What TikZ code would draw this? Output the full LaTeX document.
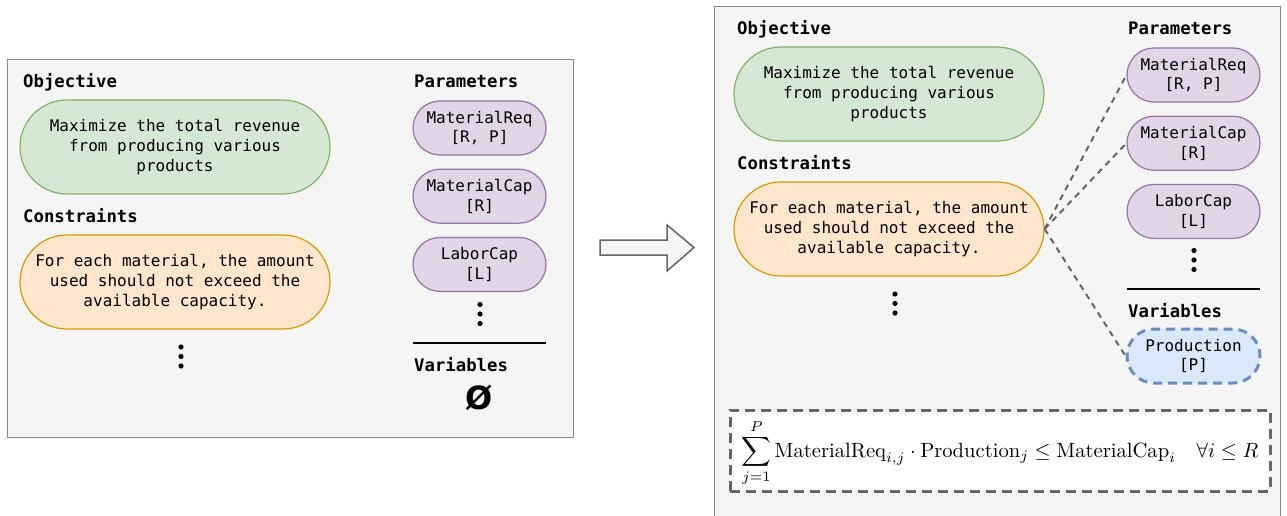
\documentclass[tikz,border=0pt]{standalone}
\usepackage{amsmath}
\usepackage{fontspec}
\usetikzlibrary{positioning, shapes.misc}
\newfontfamily\codefont{DejaVu Sans Mono}
\newfontfamily\symfont{DejaVu Sans}
\definecolor{panelfill}{HTML}{F5F5F5}
\definecolor{panelgray}{HTML}{888888}
\definecolor{linkgray}{HTML}{666666}
\definecolor{goalfill}{HTML}{D5E8D4}
\definecolor{goalline}{HTML}{82B366}
\definecolor{rulefill}{HTML}{FFE6CC}
\definecolor{ruleline}{HTML}{D79B00}
\definecolor{parfill}{HTML}{E1D5E7}
\definecolor{parline}{HTML}{9673A6}
\definecolor{varfill}{HTML}{DAE8FC}
\definecolor{varline}{HTML}{6C8EBF}
\newcommand{\stackdots}[1]{\fill (#1) ++(0,-9.5) circle (2.6) ++(0,9.5) circle (2.6) ++(0,9.5) circle (2.6);}

\begin{document}
\begin{tikzpicture}[x=1pt, y=-1pt, node distance=13pt,
  panel/.style={draw=panelgray, fill=panelfill, line width=1.3pt, anchor=north west, inner sep=0},
  heading/.style={anchor=base west, inner sep=0, font=\codefont\bfseries\fontsize{17.3}{20}\selectfont},
  pill/.style={rounded rectangle, line width=1.2pt, align=center, inner sep=0, font=\codefont\fontsize{16}{19.6}\selectfont},
  goalpill/.style={pill, fill=goalfill, draw=goalline, minimum width=310pt, minimum height=94pt},
  rulepill/.style={pill, fill=rulefill, draw=ruleline, minimum width=310pt, minimum height=94pt},
  parpill/.style={pill, fill=parfill, draw=parline, minimum width=133pt, minimum height=54pt},
  varpill/.style={pill, fill=varfill, draw=varline, line width=3pt, dash pattern=on 9pt off 6pt, minimum width=133pt, minimum height=54pt},
  link/.style={draw=linkgray, line width=2pt, dash pattern=on 6pt off 5pt},
  formulabox/.style={draw=linkgray, fill=white, line width=3pt, dash pattern=on 10pt off 6pt, minimum width=540pt, minimum height=81pt}]

\fill[white] (0,0) rectangle (1287,516);
\useasboundingbox (0,0) rectangle (1287,516);

% before
\node[panel, minimum width=566pt, minimum height=378pt] (leftpanel) at (7,59) {};
\node[heading] (lobj) at (23,88) {Objective};
\node[goalpill] (lgoal) at (175,147) {Maximize the total revenue\\from producing various\\products};
\node[heading] (lcons) at (23,222) {Constraints};
\node[rulepill] (lrule) at (175,282) {For each material, the amount\\used should not exceed the\\available capacity.};
\coordinate (lmore) at (181,356.5);
\stackdots{lmore}

\node[heading] (lpar) at (414,88) {Parameters};
\node[parpill] (lreq) at (479.5,128) {MaterialReq\\{[R, P]}};
\node[parpill, below=of lreq] (lcap) {MaterialCap\\{[R]}};
\node[parpill, below=of lcap] (llab) {LaborCap\\{[L]}};
\coordinate (lparmore) at (480,314);
\stackdots{lparmore}
\draw[line width=1.3pt] (413,343) -- (546,343);
\node[heading] (lvar) at (414,371) {Variables};
\node[font=\symfont\bfseries\fontsize{32}{32}\selectfont, inner sep=0] (lnone) at (479,398) {Ø};

% arrow
\draw[draw=linkgray, fill=panelfill, line width=1.5pt, line join=miter]
  (600,240) -- (667,240) -- (667,225) -- (694,247.5) -- (667,271) -- (667,255) -- (600,255) -- cycle;

% after
\node[panel, minimum width=566pt, minimum height=530pt] (rightpanel) at (714,6) {};
\node[heading] (robj) at (737,35) {Objective};
\node[goalpill] (rgoal) at (889,94) {Maximize the total revenue\\from producing various\\products};
\node[heading] (rcons) at (737,169) {Constraints};
\node[rulepill] (rrule) at (889,229) {For each material, the amount\\used should not exceed the\\available capacity.};
\coordinate (rmore) at (895,303.5);
\stackdots{rmore}

\node[heading] (rpar) at (1128,35) {Parameters};
\node[parpill] (rreq) at (1193.5,75) {MaterialReq\\{[R, P]}};
\node[parpill, below=of rreq] (rcap) {MaterialCap\\{[R]}};
\node[parpill, below=of rcap] (rlab) {LaborCap\\{[L]}};
\coordinate (rparmore) at (1194,260);
\stackdots{rparmore}
\draw[line width=1.3pt] (1127,289) -- (1260,289);
\node[heading] (rvar) at (1128,317) {Variables};
\node[varpill] (rprod) at (1193.5,356) {Production\\{[P]}};

\draw[link] (rrule.east) -- (rreq.west);
\draw[link] (rrule.east) -- (rcap.west);
\draw[link] (rrule.east) -- (rprod.west);

\node[formulabox] (rlaw) at (1000,450.5) {};
\node[inner sep=0] (rlawtext) at (1000,453) {\scalebox{2.06}{$\displaystyle
\sum_{j=1}^{P} \mathrm{MaterialReq}_{i,j}\cdot\mathrm{Production}_j \le \mathrm{MaterialCap}_i \quad \forall i \le R$}};

\end{tikzpicture}
\end{document}
